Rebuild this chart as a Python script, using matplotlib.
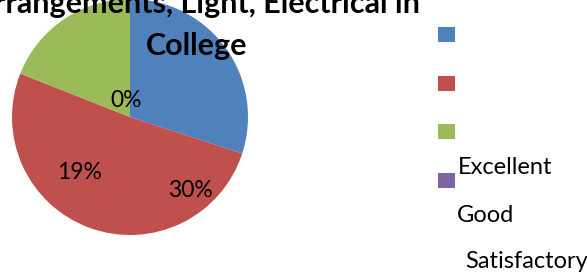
import matplotlib
matplotlib.use("Agg")
import matplotlib.pyplot as plt
from matplotlib.patches import Patch

plt.rcParams["font.family"] = ["Lato", "DejaVu Sans"]

# ── data ─────────────────────────────────────────────
categories = ["Excellent", "Good", "Satisfactory", "Poor"]
values     = [30, 51, 19, 0]
colors     = ["#4F81BD", "#C0504D", "#9BBB59", "#8064A2"]
pct_labels = ["0%", "19%", "30%"]

TITLE = "Arrangements, Light, Electrical in\nCollege"

# label spots (data coords of the pie axes), as they sit in the original
LABEL_POS = [(-0.03, 0.14), (-0.43, -0.47), (0.51, -0.62)]

fig = plt.figure(figsize=(5.87, 2.75), dpi=100)

# pie: centre ~ (130, 117) px, radius ~118 px
W, H = 587, 275
cx, cy, r = 130, 117, 118
ax = fig.add_axes([(cx - r) / W, (H - cy - r) / H, 2 * r / W, 2 * r / H])
wedges, _ = ax.pie(values, colors=colors, startangle=90, counterclock=False,
                   radius=1, wedgeprops={"linewidth": 0})
ax.set_xlim(-1, 1)
ax.set_ylim(-1, 1)
ax.set_aspect("equal")
ax.axis("off")

for (x, y), t in zip(LABEL_POS, pct_labels):
    ax.text(x, y, t, ha="center", va="center", fontsize=16.5, color="black")

fig.text(197 / W, 1 - 55 / H, TITLE, ha="center", va="baseline",
         fontsize=22, fontweight="bold", linespacing=1.62)

# legend squares with no text, then the names sitting lower
handles = [Patch(facecolor=c, edgecolor="none") for c in colors]
fig.legend(handles, ["", "", "", ""], loc="upper left",
           bbox_to_anchor=(438 / W, 1 - 27 / H), frameon=False,
           handlelength=1.0, handleheight=1.0, fontsize=12,
           labelspacing=1.95, borderpad=0, handletextpad=0, borderaxespad=0)

for (x, y), name in zip([(458, 167), (457, 216), (465, 262)], categories[:3]):
    fig.text(x / W, 1 - y / H, name, ha="left", va="center", fontsize=17)

fig.savefig("out.png", dpi=100)
